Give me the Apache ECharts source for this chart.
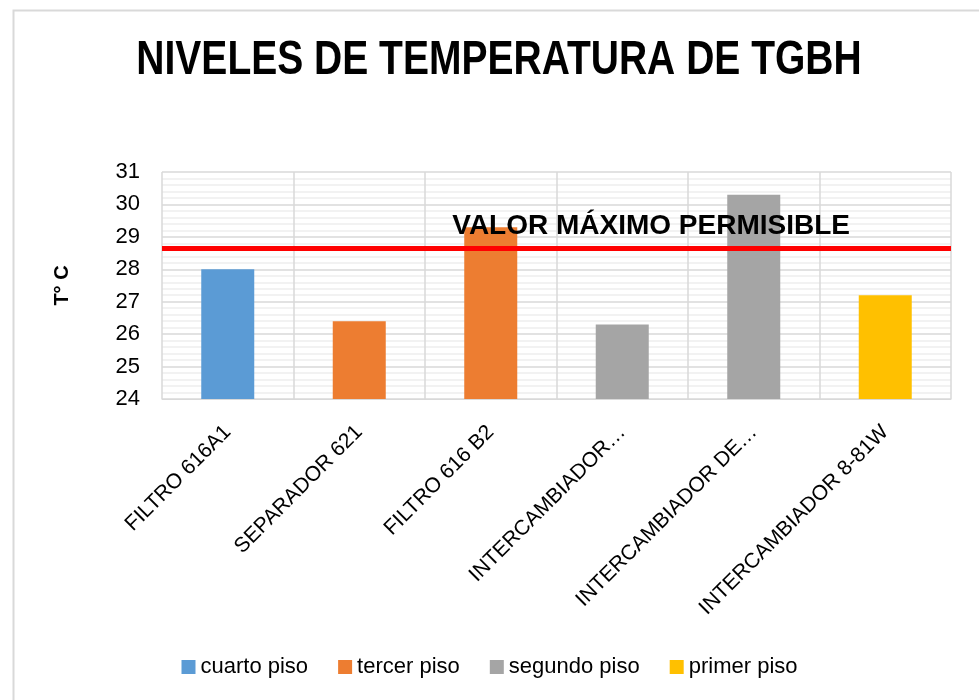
<!DOCTYPE html>
<html>
<head>
<meta charset="utf-8">
<script src="https://cdn.jsdelivr.net/npm/echarts@6/dist/echarts.min.js"></script>
<style>html,body{margin:0;padding:0;background:#fff}#c{width:979px;height:700px}</style>
</head>
<body>
<div id="c"></div>
<script>
var categories = ['FILTRO 616A1', 'SEPARADOR 621', 'FILTRO 616 B2', 'INTERCAMBIADOR…', 'INTERCAMBIADOR DE…', 'INTERCAMBIADOR 8-81W'];
var values = [28.0, 26.4, 29.3, 26.3, 30.3, 27.2];
var floorOfBar = ['cuarto piso', 'tercer piso', 'tercer piso', 'segundo piso', 'segundo piso', 'primer piso'];
var floors = ['cuarto piso', 'tercer piso', 'segundo piso', 'primer piso'];
var floorColors = ['#5B9BD5', '#ED7D31', '#A5A5A5', '#FFC000'];
var maxPermisible = 28.64;
var yTicks = [24, 25, 26, 27, 28, 29, 30, 31];
var titleText = 'NIVELES DE TEMPERATURA DE TGBH';

var FONT = '"Liberation Sans", Arial, sans-serif';
var chart = echarts.init(document.getElementById('c'), null, {renderer: 'canvas'});

var series = floors.map(function (f, i) {
  var s = {
    name: f,
    type: 'bar',
    barWidth: 53,
    barGap: '-100%',
    itemStyle: {color: floorColors[i]},
    data: values.map(function (v, j) { return floorOfBar[j] === f ? v : '-'; })
  };
  if (i === 0) {
    s.markLine = {
      silent: true,
      symbol: ['none', 'none'],
      animation: false,
      lineStyle: {color: '#FF0000', width: 5, type: 'solid'},
      label: {
        show: true,
        formatter: 'VALOR MÁXIMO PERMISIBLE',
        position: 'insideEndTop',
        distance: 5,
        offset: [-96, -3],
        color: '#000',
        fontFamily: FONT,
        fontWeight: 'bold',
        fontSize: 28
      },
      data: [{yAxis: maxPermisible}]
    };
  }
  return s;
});

chart.setOption({
  animation: false,
  backgroundColor: '#fff',
  graphic: [{
    type: 'rect', left: 11, top: 8, shape: {width: 1000, height: 720},
    style: {fill: 'none', stroke: '#D9D9D9', lineWidth: 2}
  }, {
    type: 'text',
    x: 499, y: 61,
    scaleX: 0.83,
    scaleY: 1.04,
    style: {
      text: titleText, fill: '#000',
      font: 'bold 47px "Liberation Sans", Arial, sans-serif',
      align: 'center', verticalAlign: 'middle'
    }
  }],
  legend: {
    bottom: 17, left: 'center',
    itemWidth: 14, itemHeight: 14, itemGap: 30,
    icon: 'rect',
    textStyle: {fontFamily: FONT, fontSize: 22, color: '#000'},
    data: floors
  },
  grid: {left: 162, right: 28, top: 172, bottom: 301, containLabel: false},
  xAxis: {
    type: 'category',
    data: categories,
    axisLine: {show: true, lineStyle: {color: '#D9D9D9', width: 1}},
    axisTick: {show: false},
    splitLine: {show: true, lineStyle: {color: '#D9D9D9', width: 1.5}},
    axisLabel: {rotate: 45, interval: 0, margin: 30, color: '#000', fontFamily: FONT, fontSize: 21}
  },
  yAxis: {
    type: 'value',
    min: yTicks[0], max: yTicks[yTicks.length - 1], interval: 1,
    name: 'T° C',
    nameLocation: 'middle',
    nameGap: 90,
    nameRotate: 90,
    nameTextStyle: {fontFamily: FONT, fontWeight: 'bold', fontSize: 20, color: '#000'},
    axisLine: {show: false},
    axisTick: {show: false},
    axisLabel: {margin: 22, color: '#000', fontFamily: FONT, fontSize: 22},
    splitLine: {show: true, lineStyle: {color: '#D9D9D9', width: 1.5}},
    minorTick: {show: false, splitNumber: 5},
    minorSplitLine: {show: true, lineStyle: {color: '#EEEEEE', width: 1.5}}
  },
  series: series
});
</script>
</body>
</html>
